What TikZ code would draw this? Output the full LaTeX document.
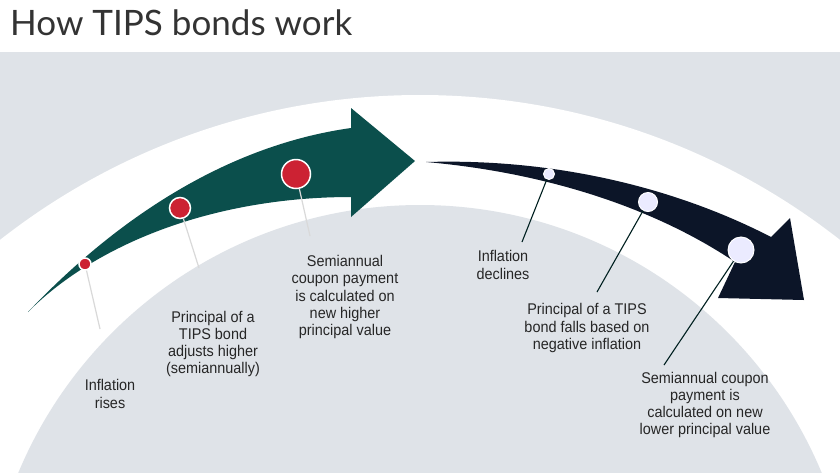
\documentclass[tikz,border=0pt]{standalone}
\usepackage{fontspec}
\setmainfont{Liberation Sans}
\newfontfamily\lblfont[FakeStretch=0.93]{Liberation Sans}
\newfontfamily\titlefont{Lato}
\begin{document}
\begin{tikzpicture}[x=1pt,y=-1pt,
  lbl/.style={align=center,font=\lblfont\fontsize{15.5}{17.3}\selectfont,text=black!85,inner sep=0pt},
  gstem/.style={draw=black!15,line width=1.2pt},
  dstem/.style={draw=black!75!teal,line width=1.1pt},
  rdot/.style={circle,fill=rd,draw=white,line width=1.5pt,inner sep=0pt},
  wdot/.style={circle,fill=white!92!blue,draw=white,line width=1pt,inner sep=0pt}]
\definecolor{bg}{HTML}{DFE3E8}
\definecolor{gr}{HTML}{0B4F4C}
\definecolor{nv}{HTML}{0C1528}
\definecolor{rd}{HTML}{CC2233}
\useasboundingbox (0,0) rectangle (840,472);
\fill[white] (0,0) rectangle (840,472);
\fill[bg] (0,52) rectangle (840,472);
\begin{scope}
\clip (0,52) rectangle (840,472);
\fill[white] (420,776) circle[radius=681];
\fill[bg] (420,640) circle[radius=435];
\end{scope}
\node[anchor=west,font=\titlefont\fontsize{35}{36}\selectfont,text=black!80,inner sep=0pt] (title) at (10,23) {How TIPS bonds work};
% green arrow
\fill[gr] (28,312) .. controls (120,215) and (230,145) .. (351,128) -- (351,108) -- (415,161) -- (351,217) -- (351,197) .. controls (220,197) and (100,240) .. cycle;
% navy arrow
\fill[nv] (426,162) .. controls (560,158) and (680,190) .. (771,237) -- (790,218) -- (804,300) -- (718,298) -- (735,262) .. controls (650,205) and (540,172) .. cycle;
% stems and dots
\coordinate (s1) at (100,329); \coordinate (s2) at (199,268); \coordinate (s3) at (310,236);
\coordinate (s4) at (522,242); \coordinate (s5) at (597,292); \coordinate (s6) at (664,365);
\node[rdot,minimum size=12pt] (d1) at (85,264) {};
\node[rdot,minimum size=21pt] (d2) at (180,208) {};
\node[rdot,minimum size=29pt] (d3) at (296,174) {};
\node[wdot,minimum size=11pt] (d4) at (549,174) {};
\node[wdot,minimum size=19pt] (d5) at (648,202) {};
\node[wdot,minimum size=26pt] (d6) at (741,250) {};
\draw[gstem] (d1) -- (s1); \draw[gstem] (d2) -- (s2); \draw[gstem] (d3) -- (s3);
\draw[dstem] (d4) -- (s4); \draw[dstem] (d5) -- (s5); \draw[dstem] (d6) -- (s6);
\node[lbl] (t1) at (110,394) {Inflation\\rises};
\node[lbl] (t2) at (213,344) {Principal of a\\TIPS bond\\adjusts higher\\(semiannually)};
\node[lbl] (t3) at (345,297) {Semiannual\\coupon payment\\is calculated on\\new higher\\principal value};
\node[lbl] (t4) at (503,265) {Inflation\\declines};
\node[lbl] (t5) at (587,328) {Principal of a TIPS\\bond falls based on\\negative inflation};
\node[lbl] (t6) at (705,405) {Semiannual coupon\\payment is\\calculated on new\\lower principal value};
\end{tikzpicture}
\end{document}
